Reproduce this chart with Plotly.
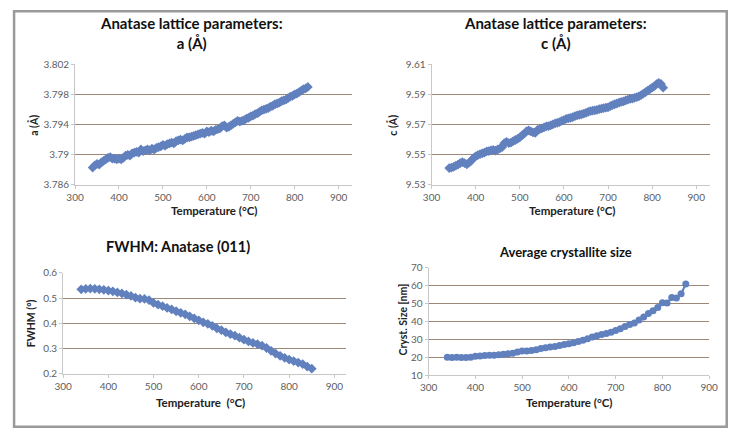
import plotly.graph_objects as go

# ---------------- data ----------------
temp_a = [340, 345, 350, 355, 360, 365, 370, 375, 380, 385, 390, 395, 400, 405, 410, 415, 420, 425, 430, 435,
          440, 445, 450, 455, 460, 465, 470, 475, 480, 485, 490, 495, 500, 505, 510, 515, 520, 525, 530, 535,
          540, 545, 550, 555, 560, 565, 570, 575, 580, 585, 590, 595, 600, 605, 610, 615, 620, 625, 630, 635,
          640, 645, 650, 655, 660, 665, 670, 675, 680, 685, 690, 695, 700, 705, 710, 715, 720, 725, 730, 735,
          740, 745, 750, 755, 760, 765, 770, 775, 780, 785, 790, 795, 800, 805, 810, 815, 820, 825, 830]
lat_a = [3.7883, 3.7886, 3.7888, 3.7887, 3.7890, 3.7892, 3.7894, 3.7896, 3.7897, 3.7895,
         3.7895, 3.7894, 3.7895, 3.7894, 3.7896, 3.7899, 3.7900, 3.7899, 3.7902, 3.7903,
         3.7904, 3.7903, 3.7907, 3.7905, 3.7906, 3.7907, 3.7906, 3.7908, 3.7907, 3.7909,
         3.7910, 3.7911, 3.7913, 3.7912, 3.7914, 3.7915, 3.7916, 3.7915, 3.7918, 3.7919,
         3.7920, 3.7919, 3.7921, 3.7923, 3.7923, 3.7924, 3.7925, 3.7926, 3.7927, 3.7928,
         3.7929, 3.7928, 3.7931, 3.7930, 3.7932, 3.7931, 3.7933, 3.7934, 3.7935, 3.7938,
         3.7939, 3.7936, 3.7937, 3.7939, 3.7941, 3.7943, 3.7945, 3.7944, 3.7945, 3.7946,
         3.7948, 3.7949, 3.7951, 3.7952, 3.7954, 3.7955, 3.7957, 3.7959, 3.7960, 3.7961,
         3.7962, 3.7964, 3.7965, 3.7967, 3.7968, 3.7969, 3.7971, 3.7972, 3.7973, 3.7975,
         3.7977, 3.7978, 3.7980, 3.7981, 3.7983, 3.7985, 3.7987, 3.7988, 3.7990]

temp_c = [340, 345, 350, 355, 360, 365, 370, 375, 380, 385, 390, 395, 400, 405, 410, 415, 420, 425, 430, 435,
          440, 445, 450, 455, 460, 465, 470, 475, 480, 485, 490, 495, 500, 505, 510, 515, 520, 525, 530, 535,
          540, 545, 550, 555, 560, 565, 570, 575, 580, 585, 590, 595, 600, 605, 610, 615, 620, 625, 630, 635,
          640, 645, 650, 655, 660, 665, 670, 675, 680, 685, 690, 695, 700, 705, 710, 715, 720, 725, 730, 735,
          740, 745, 750, 755, 760, 765, 770, 775, 780, 785, 790, 795, 800, 805, 810, 815, 820, 825]
lat_c = [9.5412, 9.5415, 9.5420, 9.5428, 9.5435, 9.5445, 9.5452, 9.5445, 9.5437, 9.5448,
         9.5460, 9.5478, 9.5490, 9.5498, 9.5505, 9.5510, 9.5515, 9.5522, 9.5525, 9.5530,
         9.5532, 9.5528, 9.5535, 9.5542, 9.5550, 9.5578, 9.5585, 9.5578, 9.5580, 9.5590,
         9.5598, 9.5605, 9.5615, 9.5628, 9.5640, 9.5655, 9.5662, 9.5655, 9.5648, 9.5645,
         9.5665, 9.5670, 9.5675, 9.5682, 9.5688, 9.5690, 9.5695, 9.5702, 9.5708, 9.5712,
         9.5717, 9.5724, 9.5730, 9.5738, 9.5742, 9.5745, 9.5750, 9.5757, 9.5762, 9.5765,
         9.5768, 9.5773, 9.5778, 9.5785, 9.5790, 9.5792, 9.5795, 9.5798, 9.5802, 9.5806,
         9.5810, 9.5812, 9.5815, 9.5822, 9.5830, 9.5835, 9.5840, 9.5845, 9.5850, 9.5854,
         9.5860, 9.5865, 9.5870, 9.5872, 9.5878, 9.5882, 9.5888, 9.5896, 9.5905, 9.5915,
         9.5925, 9.5935, 9.5945, 9.5955, 9.5968, 9.5976, 9.5970, 9.5945]

temp_b = [340, 350, 360, 370, 380, 390, 400, 410, 420, 430, 440, 450, 460, 470, 480, 490, 500, 510, 520, 530,
          540, 550, 560, 570, 580, 590, 600, 610, 620, 630, 640, 650, 660, 670, 680, 690, 700, 710, 720, 730,
          740, 750, 760, 770, 780, 790, 800, 810, 820, 830, 840, 850]
fwhm = [0.535, 0.537, 0.538, 0.537, 0.535, 0.533, 0.530, 0.527, 0.523, 0.519,
        0.514, 0.509, 0.502, 0.498, 0.497, 0.492, 0.481, 0.474, 0.468, 0.461,
        0.455, 0.448, 0.442, 0.436, 0.428, 0.420, 0.412, 0.404, 0.398, 0.390,
        0.380, 0.373, 0.364, 0.357, 0.351, 0.343, 0.335, 0.328, 0.322, 0.317,
        0.311, 0.302, 0.291, 0.280, 0.271, 0.263, 0.256, 0.250, 0.244, 0.238,
        0.228, 0.220]
cryst = [20.0, 19.9, 20.0, 19.9, 19.9, 20.0, 20.6, 20.8, 21.0, 21.1,
         21.2, 21.4, 21.7, 22.0, 22.3, 23.0, 23.5, 23.6, 23.8, 24.3,
         25.0, 25.4, 25.8, 26.0, 26.6, 27.2, 27.6, 28.2, 28.8, 29.5,
         30.4, 31.3, 32.0, 32.7, 33.3, 34.0, 35.0, 36.0, 37.2, 38.4,
         39.2, 40.8, 42.5, 44.5, 46.0, 47.8, 50.5, 50.3, 53.5, 53.2,
         55.5, 61.0]

x_ticks = [300, 400, 500, 600, 700, 800, 900]
a_ticks = [3.786, 3.79, 3.794, 3.798, 3.802]
a_tick_text = ["3.786", "3.79", "3.794", "3.798", "3.802"]
c_ticks = [9.53, 9.55, 9.57, 9.59, 9.61]
c_tick_text = ["9.53", "9.55", "9.57", "9.59", "9.61"]
f_ticks = [0.2, 0.3, 0.4, 0.5, 0.6]
f_tick_text = ["0.2", "0.3", "0.4", "0.5", "0.6"]
s_ticks = [10, 20, 30, 40, 50, 60, 70]

titles = ["Anatase lattice parameters:<br>a (Å)", "Anatase lattice parameters:<br>c (Å)",
          "FWHM: Anatase (011)", "Average crystallite size"]
x_titles = ["Temperature (°C)", "Temperature (°C)", "Temperature  (°C)", "Temperature (°C)"]
y_titles = ["a (Å)", "c (Å)", "FWHM (°)", "Cryst. Size [nm]"]

# ---------------- style ----------------
W, H = 745, 445
FONT = "Lato"
BLUE = "#6180BE"
GRID = "#9C8878"
AXL = "#C8C8C8"
TICKC = "#5e5e5e"

def px(x):
    return x / W

def py(y):
    return 1 - y / H

fig = go.Figure()

series = [
    (temp_a, lat_a, "diamond", 7.5),
    (temp_c, lat_c, "diamond", 7.5),
    (temp_b, fwhm, "diamond", 7.5),
    (temp_b, cryst, "circle", 7),
]
for i, (xs, ys, sym, sz) in enumerate(series):
    n = "" if i == 0 else str(i + 1)
    fig.add_trace(go.Scatter(
        x=xs, y=ys, mode="lines+markers",
        line=dict(color=BLUE, width=2),
        marker=dict(symbol=sym, size=sz, color=BLUE, line=dict(width=0)),
        xaxis="x" + n, yaxis="y" + n, showlegend=False, hoverinfo="skip"))

# plot area pixel boxes: (left, right, top, bottom), x range, y range
boxes = [
    (67.7, 351.7, 59.0, 183.3, [300, 931], [3.786, 3.802], a_ticks, a_tick_text),
    (433.0, 718.3, 59.0, 183.3, [300, 931], [9.53, 9.61], c_ticks, c_tick_text),
    (55.5, 345.0, 274.0, 377.7, [300, 925], [0.2, 0.6], f_ticks, f_tick_text),
    (430.0, 717.5, 268.7, 379.3, [300, 900], [10, 70], s_ticks, [str(v) for v in s_ticks]),
]

layout = dict(
    width=W, height=H, margin=dict(l=0, r=0, t=0, b=0),
    paper_bgcolor="white", plot_bgcolor="white",
    font=dict(family=FONT, color="#222"),
)
for i, (l, r, t, b, xr, yr, yt, ytt) in enumerate(boxes):
    n = "" if i == 0 else str(i + 1)
    layout["xaxis" + n] = dict(
        domain=[px(l), px(r)], range=xr, anchor="y" + n,
        tickvals=x_ticks, ticktext=[str(v) for v in x_ticks],
        showgrid=False, zeroline=False, showline=True, linecolor=AXL, linewidth=1,
        ticks="outside", ticklen=3, tickcolor=AXL,
        tickfont=dict(family=FONT, size=10, color=TICKC))
    layout["yaxis" + n] = dict(
        domain=[py(b), py(t)], range=yr, anchor="x" + n,
        tickvals=yt, ticktext=ytt,
        showgrid=True, gridcolor=GRID, gridwidth=1, zeroline=False,
        showline=True, linecolor=AXL, linewidth=1,
        ticks="outside", ticklen=3, tickcolor=AXL,
        tickfont=dict(family=FONT, size=10, color=TICKC))

fig.update_layout(**layout)

ann = []
# chart titles
title_pos = [(187, 27, 15), (560, 27, 15), (173.3, 247, 14.5), (570, 252.7, 13)]
for txt, (x, y, s) in zip(titles, title_pos):
    ann.append(dict(text="<b>" + txt + "</b>", x=px(x), y=py(y), xref="paper", yref="paper",
                    xanchor="center", yanchor="middle", showarrow=False,
                    font=dict(family=FONT, size=s, color="#111")))
# x axis titles
xt_pos = [(210, 210), (577, 210), (196.7, 407), (573.7, 407)]
for txt, (x, y) in zip(x_titles, xt_pos):
    ann.append(dict(text="<b>" + txt + "</b>", x=px(x), y=py(y), xref="paper", yref="paper",
                    xanchor="center", yanchor="middle", showarrow=False,
                    font=dict(family=FONT, size=11.5, color="#222")))
# y axis titles
yt_pos = [(25, 122), (392.7, 122), (23.3, 326), (403.7, 322)]
for txt, (x, y) in zip(y_titles, yt_pos):
    ann.append(dict(text="<b>" + txt + "</b>", x=px(x), y=py(y), xref="paper", yref="paper",
                    xanchor="center", yanchor="middle", showarrow=False, textangle=-90,
                    font=dict(family=FONT, size=10.5, color="#222")))
fig.update_layout(annotations=ann)

# outer frame
fig.add_shape(type="rect", xref="paper", yref="paper",
              x0=px(5.2), x1=px(735.5), y0=py(432.5), y1=py(4.5),
              line=dict(color="#9A9A9A", width=2.5), fillcolor="rgba(0,0,0,0)")

fig.write_html("out.html", config={"displayModeBar": False},
               post_script="document.body.style.margin='0';document.body.style.overflow='hidden';")
